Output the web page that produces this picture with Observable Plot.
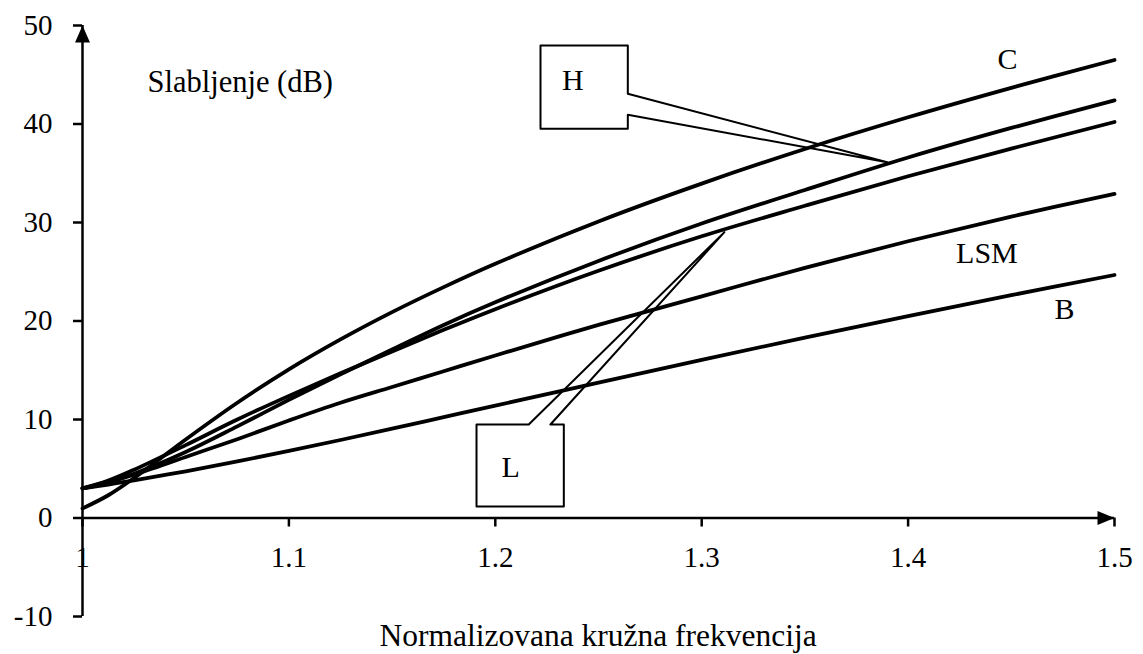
<!DOCTYPE html>
<html>
<head>
<meta charset="utf-8">
<script src="https://cdn.jsdelivr.net/npm/d3@7"></script>
<script src="https://cdn.jsdelivr.net/npm/@observablehq/plot@0.6"></script>
<style>
  html, body { margin: 0; padding: 0; background: white; }
</style>
</head>
<body>
<div id="chart"></div>
<script>
// Normalized angular frequency (x) and attenuation in dB (y)
const omega = [1.0, 1.0125, 1.025, 1.05, 1.075, 1.1, 1.125, 1.15, 1.175, 1.2, 1.25, 1.3, 1.35, 1.4, 1.45, 1.5];
const seriesC   = [0.97, 2.31, 4.06, 7.97, 11.70, 15.09, 18.13, 20.90, 23.44, 25.81, 30.11, 33.95, 37.46, 40.68, 43.67, 46.50];
const seriesH   = [3.0, 3.7, 4.5, 6.7, 9.3, 12.0, 14.6, 17.1, 19.6, 21.9, 26.1, 29.9, 33.3, 36.6, 39.6, 42.4];
const seriesL   = [3.0, 3.8, 4.9, 7.4, 10.0, 12.4, 14.7, 16.9, 19.1, 21.2, 25.1, 28.6, 31.7, 34.7, 37.5, 40.2];
const seriesLSM = [3.0, 3.6, 4.4, 6.2, 8.0, 9.9, 11.7, 13.3, 14.9, 16.5, 19.6, 22.5, 25.4, 28.1, 30.6, 32.9];
const seriesB   = [3.01, 3.40, 3.83, 4.74, 5.74, 6.81, 7.92, 9.07, 10.24, 11.41, 13.75, 16.06, 18.31, 20.50, 22.62, 24.67];

const xTicks = [1, 1.1, 1.2, 1.3, 1.4, 1.5];
const xTickLabels = ["1", "1.1", "1.2", "1.3", "1.4", "1.5"];
const yTicks = [-10, 0, 10, 20, 30, 40, 50];

const yTitle = "Slabljenje (dB)";
const xTitle = "Normalizovana kružna frekvencija";

// Curve name labels (anchored in data units)
const curveLabels = [
  {text: "C", x: 1.4482, y: 45.6},
  {text: "LSM", x: 1.4382, y: 25.9},
  {text: "B", x: 1.4758, y: 20.25}
];

// Callout boxes (in data units) pointing to curves H and L
const calloutH = [[1.2219, 47.97], [1.2642, 47.97], [1.2642, 43.07], [1.3899, 36.12], [1.2642, 40.93], [1.2642, 39.51], [1.2219, 39.51]];
const calloutL = [[1.1909, 9.49], [1.2162, 9.49], [1.3110, 29.02], [1.2267, 9.49], [1.2332, 9.49], [1.2332, 1.17], [1.1909, 1.17]];
const calloutText = [
  {text: "H", x: 1.2376, y: 43.5},
  {text: "L", x: 1.2074, y: 4.16}
];

const names = ["C", "H", "L", "LSM", "B"];
const valuesByName = {C: seriesC, H: seriesH, L: seriesL, LSM: seriesLSM, B: seriesB};
const rows = names.flatMap(name => omega.map((w, i) => ({name, w, a: valuesByName[name][i]})));

const upArrow = {draw(ctx) { ctx.moveTo(0, 0); ctx.lineTo(7.5, 17); ctx.lineTo(-7.5, 17); ctx.closePath(); }};
const rightArrow = {draw(ctx) { ctx.moveTo(0, 0); ctx.lineTo(-17, -7); ctx.lineTo(-17, 7); ctx.closePath(); }};

const FONT = "'Liberation Serif', 'Times New Roman', serif";

const chart = Plot.plot({
  width: 1143,
  height: 654,
  marginLeft: 82,
  marginRight: 29,
  marginTop: 25,
  marginBottom: 38,
  style: {fontFamily: FONT, fontSize: "29px", background: "white", color: "black"},
  x: {domain: [1, 1.5], axis: null},
  y: {domain: [-10, 50], axis: null},
  marks: [
    // callouts
    Plot.line(calloutH, {curve: "linear-closed", stroke: "black", strokeWidth: 2, fill: "none"}),
    Plot.line(calloutL, {curve: "linear-closed", stroke: "black", strokeWidth: 2, fill: "none"}),
    Plot.text(calloutText, {x: "x", y: "y", text: "text", fontSize: 30, lineAnchor: "bottom", fill: "black"}),
    // axes
    Plot.ruleX([1], {y1: -10, y2: 50, stroke: "black", strokeWidth: 2.5}),
    Plot.ruleY([0], {x1: 1, x2: 1.5, stroke: "black", strokeWidth: 2.5}),
    Plot.axisY({ticks: yTicks, tickSize: 9, tickPadding: 21, strokeWidth: 2.5, label: null, tickFormat: d => String(d), fill: "black"}),
    Plot.ruleX(xTicks, {x: d => d, y1: 0, y2: 0, insetBottom: -9, stroke: "black", strokeWidth: 2.5}),
    Plot.text(xTicks, {x: d => d, y: 0, dy: 40, text: (d, i) => xTickLabels[i], fontSize: 29, lineAnchor: "middle", fill: "black"}),
    Plot.dot([[1, 50]], {x: d => d[0], y: d => d[1], symbol: upArrow, fill: "black", stroke: "none"}),
    Plot.dot([[1.5, 0]], {x: d => d[0], y: d => d[1], symbol: rightArrow, fill: "black", stroke: "none"}),
    // curves
    Plot.line(rows, {x: "w", y: "a", z: "name", stroke: "black", strokeWidth: 3.8, curve: "catmull-rom"}),
    // labels
    Plot.text(curveLabels, {x: "x", y: "y", text: "text", fontSize: 30, lineAnchor: "bottom", fill: "black"}),
    Plot.text([yTitle], {x: 1.0315, y: 43.2, text: d => d, textAnchor: "start", fontSize: 30.5, lineAnchor: "bottom", fill: "black"}),
    Plot.text([xTitle], {x: 1.2498, frameAnchor: "bottom", dy: 29, text: d => d, fontSize: 31.5, lineAnchor: "bottom", fill: "black"})
  ]
});

document.getElementById("chart").appendChild(chart);
</script>
</body>
</html>
